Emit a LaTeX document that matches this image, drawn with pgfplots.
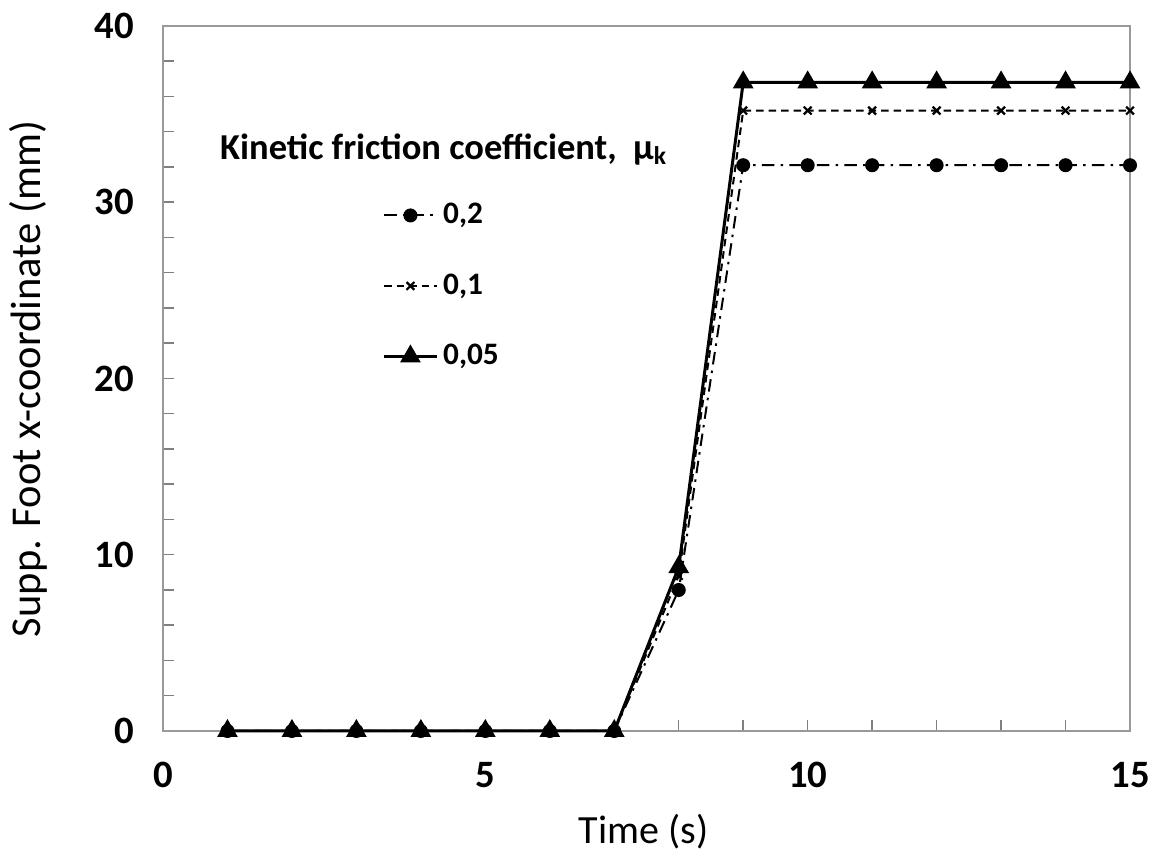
\documentclass[border=0pt]{standalone}
\usepackage{pgfplots}
\pgfplotsset{compat=1.18}
\usepackage{fontspec}
\setmainfont{Carlito}
\begin{document}
\begin{tikzpicture}
\begin{axis}[
  scale only axis,
  width=386.8pt, height=282pt,
  xmin=0, xmax=15, ymin=0, ymax=40,
  xtick={0,5,10,15}, ytick={0,10,20,30,40},
  minor xtick={1,2,3,4,6,7,8,9,11,12,13,14},
  minor ytick={2,4,6,8,12,14,16,18,22,24,26,28,32,34,36,38},
  tick pos=left,
  tick align=inside,
  major tick length=4.5pt, minor tick length=4.5pt,
  every tick/.style={gray, line width=0.6pt},
  axis line style={gray!80, line width=0.7pt},
  /pgf/number format/assume math mode=true,
  ticklabel style={font=\bfseries\fontsize{15.5}{15.5}\selectfont},
  xticklabel style={yshift=-9pt},
  yticklabel style={xshift=-8pt},
  xlabel={Time (s)},
  ylabel={Supp. Foot x-coordinate (mm)},
  xlabel style={font=\fontsize{16}{16}\selectfont, at={(axis description cs:0.497,-0.1433)}, anchor=center},
  ylabel style={font=\fontsize{17}{17}\selectfont, at={(axis description cs:-0.1396,0.5)}, anchor=center},
  legend style={draw=none, fill=none, at={(axis cs:3.4,30.25)}, anchor=north west,
     font=\bfseries\fontsize{12.5}{12.5}\selectfont, row sep=14.5pt, inner sep=0pt,
     /tikz/every even column/.append style={column sep=2pt}},
  legend cell align=left,
  legend image code/.code={\draw[mark repeat=2,mark phase=2,#1] plot coordinates {(0pt,0pt) (10.5pt,0pt) (21pt,0pt)};},
  clip=false,
]
\addplot[black, line width=0.8pt, dash pattern=on 5pt off 2.5pt on 1pt off 2.5pt, mark=*, mark size=2.4pt, mark options={solid}]
coordinates {(1,0)(2,0)(3,0)(4,0)(5,0)(6,0)(7,0)(8,8.0)(9,32.1)(10,32.1)(11,32.1)(12,32.1)(13,32.1)(14,32.1)(15,32.1)};
\addlegendentry{0,2}
\addplot[black, line width=0.8pt, dash pattern=on 3pt off 2pt, mark=x, mark size=2.2pt, mark options={solid, line width=0.9pt}]
coordinates {(1,0)(2,0)(3,0)(4,0)(5,0)(6,0)(7,0)(8,8.8)(9,35.2)(10,35.2)(11,35.2)(12,35.2)(13,35.2)(14,35.2)(15,35.2)};
\addlegendentry{0,1}
\addplot[black, line width=1.2pt, mark=triangle*, mark size=3.6pt, mark options={solid}]
coordinates {(1,0)(2,0)(3,0)(4,0)(5,0)(6,0)(7,0)(8,9.3)(9,36.8)(10,36.8)(11,36.8)(12,36.8)(13,36.8)(14,36.8)(15,36.8)};
\addlegendentry{0,05}
\node[anchor=west, inner sep=0pt, font=\bfseries\fontsize{14.6}{14.6}\selectfont] at (axis cs:0.88,33.0) {Kinetic friction coefficient,\ \ µ\textsubscript{k}};
\coordinate (SW) at (rel axis cs:0,0);
\coordinate (NE) at (rel axis cs:1,1);
\end{axis}
\pgfresetboundingbox
\path[use as bounding box] ([xshift=-65.2pt,yshift=-48pt]SW) rectangle ([xshift=9.6pt,yshift=10.4pt]NE);
\end{tikzpicture}
\end{document}
